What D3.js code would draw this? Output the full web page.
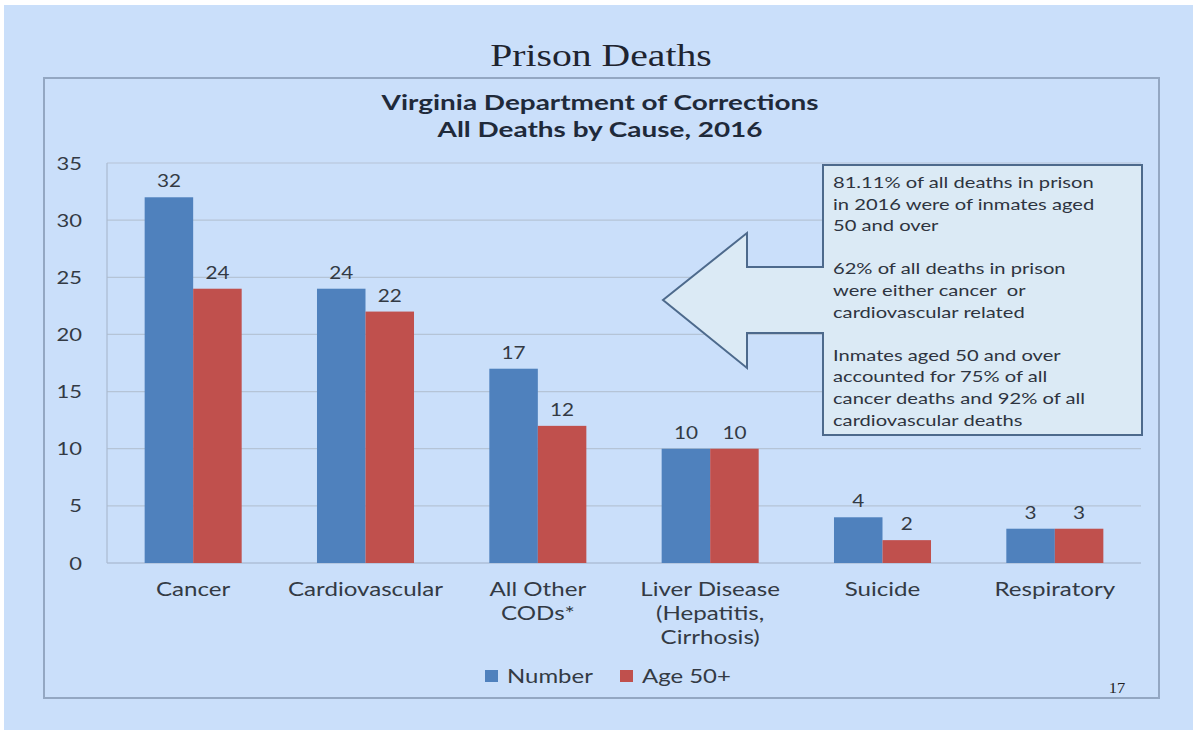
<!DOCTYPE html>
<html>
<head>
<meta charset="utf-8">
<script src="https://cdn.jsdelivr.net/npm/d3@7"></script>
<style>
  html, body { margin: 0; padding: 0; background: #ffffff; }
  svg { display: block; }
</style>
</head>
<body>
<svg id="chart" width="1193" height="730"></svg>
<script>
// ---- data ----
const categories = [["Cancer"], ["Cardiovascular"], ["All Other", "CODs*"], ["Liver Disease", "(Hepatitis,", "Cirrhosis)"], ["Suicide"], ["Respiratory"]];
const seriesNames = ["Number", "Age 50+"];
const numberValues = [32, 24, 17, 10, 4, 3];
const age50Values = [24, 22, 12, 10, 2, 3];
const yTicks = [0, 5, 10, 15, 20, 25, 30, 35];
const slideTitle = "Prison Deaths";
const chartTitle = ["Virginia Department of Corrections", "All Deaths by Cause, 2016"];
const noteLines = [
  "81.11% of all deaths in prison", "in 2016 were of inmates aged", "50 and over", "",
  "62% of all deaths in prison", "were either cancer\u00a0 or", "cardiovascular related", "",
  "Inmates aged 50 and over", "accounted for 75% of all", "cancer deaths and 92% of all", "cardiovascular deaths"
];
const pageNumber = "17";

// ---- styling ----
const colors = ["#4f81bd", "#c0504d"];
const SX = 1.22;
const sans = "Lato, 'Open Sans', sans-serif";
const textCol = "#333a44";

const svg = d3.select("#chart");
svg.append("rect").attr("x", 4).attr("y", 5).attr("width", 1189).attr("height", 725).attr("fill", "#cadffa");

function txt(g, x, y, s, opts) {
  const t = g.append("text")
    .attr("transform", `translate(${x},${y}) scale(${opts.sx || SX},1)`)
    .attr("text-anchor", opts.anchor || "middle")
    .attr("font-family", opts.family || sans)
    .attr("font-size", opts.size)
    .attr("font-weight", opts.weight || "normal")
    .attr("fill", opts.fill || textCol)
    .text(s);
  return t;
}

// slide title
txt(svg, 601, 66, slideTitle, {family: "'Liberation Serif', 'Times New Roman', serif", size: 32, fill: "#1e2430", sx: 1.24});

// chart frame
svg.append("rect").attr("x", 44).attr("y", 78).attr("width", 1115).attr("height", 620)
  .attr("fill", "#cadffa").attr("stroke", "#93a7c2").attr("stroke-width", 2);

// chart titles
txt(svg, 600, 110, chartTitle[0], {size: 21, weight: "bold", fill: "#1f2a3a", sx: 1.33});
txt(svg, 600, 137, chartTitle[1], {size: 21, weight: "bold", fill: "#1f2a3a", sx: 1.33});

const plot = {left: 107, right: 1141, top: 163, bottom: 563};
const y = d3.scaleLinear().domain([0, 35]).range([plot.bottom, plot.top]);
const x0 = d3.scaleBand().domain(d3.range(categories.length)).range([plot.left, plot.right])
  .paddingInner(0.437).paddingOuter(0.2185);
const x1 = d3.scaleBand().domain([0, 1]).range([0, x0.bandwidth()]);

// gridlines
const grid = svg.append("g");
grid.selectAll("line").data(yTicks).join("line")
  .attr("x1", plot.left).attr("x2", plot.right)
  .attr("y1", d => y(d)).attr("y2", d => y(d))
  .attr("stroke", d => d === 0 ? "#9fb0c6" : "#b5c4d6").attr("stroke-width", 1.2);
svg.append("line").attr("x1", plot.left).attr("x2", plot.left).attr("y1", plot.top).attr("y2", plot.bottom)
  .attr("stroke", "#aabbd0").attr("stroke-width", 1.2);

// y tick labels
yTicks.forEach(v => txt(svg, 82, y(v) + 6.5, String(v), {size: 18, anchor: "end"}));

// bars
const series = [numberValues, age50Values];
series.forEach((vals, si) => {
  const g = svg.append("g");
  g.selectAll("rect").data(vals).join("rect")
    .attr("x", (d, i) => x0(i) + x1(si))
    .attr("width", x1.bandwidth())
    .attr("y", d => y(d))
    .attr("height", d => y(0) - y(d))
    .attr("fill", colors[si]);
  vals.forEach((d, i) => txt(svg, x0(i) + x1(si) + x1.bandwidth() / 2, y(d) - 10, String(d), {size: 17}));
});

// category labels
categories.forEach((lines, i) => {
  lines.forEach((l, j) => txt(svg, x0(i) + x0.bandwidth() / 2, 596 + j * 24, l, {size: 19, sx: 1.27}));
});

// annotation arrow + box
const arrowPts = [[663, 300], [747, 233], [747, 267], [823, 267], [823, 333], [747, 333], [747, 368]];
svg.append("path").attr("d", d3.line()(arrowPts) + "Z")
  .attr("fill", "#dbeaf5").attr("stroke", "#4d6a8c").attr("stroke-width", 2).attr("stroke-linejoin", "miter");
svg.append("rect").attr("x", 823).attr("y", 165).attr("width", 319).attr("height", 270)
  .attr("fill", "#dbeaf5").attr("stroke", "#4d6a8c").attr("stroke-width", 2);
svg.append("rect").attr("x", 821).attr("y", 268).attr("width", 4).attr("height", 64).attr("fill", "#dbeaf5");
noteLines.forEach((l, i) => {
  if (l) txt(svg, 833, 188 + i * 21.6, l, {size: 15.5, anchor: "start", fill: "#2e3440", sx: 1.3});
});

// legend
const lg = svg.append("g");
const legendItems = [{x: 485, name: seriesNames[0], c: colors[0]}, {x: 620, name: seriesNames[1], c: colors[1]}];
legendItems.forEach(it => {
  lg.append("rect").attr("x", it.x).attr("y", 670).attr("width", 13).attr("height", 12).attr("fill", it.c);
  txt(lg, it.x + 22, 683, it.name, {size: 19, anchor: "start", sx: 1.26});
});

// page number
txt(svg, 1117, 693, pageNumber, {family: "'Liberation Serif', serif", size: 15, fill: "#222", sx: 1.1});
</script>
</body>
</html>
